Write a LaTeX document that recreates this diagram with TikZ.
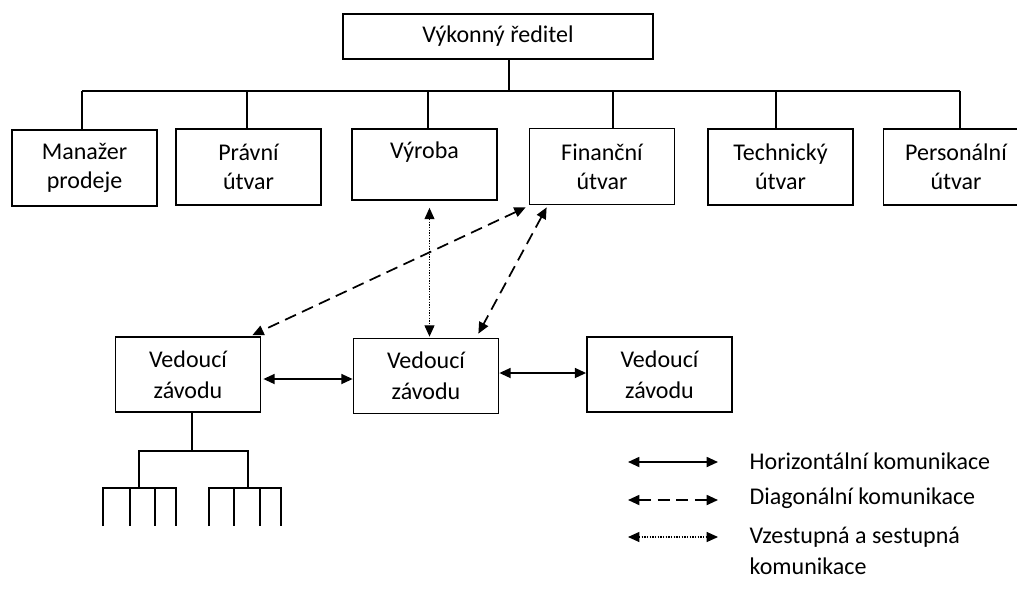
\documentclass[tikz,border=0pt]{standalone}
\usepackage{fontspec}
\setmainfont{Carlito}
\usetikzlibrary{arrows.meta}
\begin{document}
\begin{tikzpicture}[x=0.75pt,y=-0.75pt,
  ln/.style={line width=1.3pt, draw=black},
  txt/.style={font=\fontsize{18}{21.6}\selectfont},
  box/.style={ln, txt, align=center, inner sep=0pt},
  dept/.style={box, minimum width=108.75pt, minimum height=57pt},
  plant/.style={box, font=\fontsize{18}{23}\selectfont, minimum width=108.75pt, minimum height=56.25pt},
  dbl/.style={{Triangle[length=8.5pt,width=7.5pt]}-{Triangle[length=8.5pt,width=7.5pt]}},
  dsh/.style={ln, dbl, dash pattern=on 9pt off 5pt},
  dot/.style={line width=0.8pt, dbl, dash pattern=on 1pt off 1pt},
  leg/.style={txt, anchor=west, align=left}]
\useasboundingbox (0,0) rectangle (1017,590);
\clip (0,0) rectangle (1017,590);
% top
\node[box, minimum width=232.5pt, minimum height=33.75pt] (ceo) at (498,36.5) {Výkonný ředitel};
% departments
\node[dept] (m) at (84.5,168) {Manažer\\prodeje};
\node[dept] (p) at (248.5,167) {Právní\\útvar};
\node[dept, minimum height=53.25pt] (v) at (424.5,164.5) {Výroba\\\mbox{}};
\node[dept] (f) at (602,166.5) {Finanční\\útvar};
\node[dept] (t) at (780.5,167) {Technický\\útvar};
\node[dept] (h) at (956,167) {Personální\\útvar};
% bus
\coordinate (busL) at (82,91);
\coordinate (busR) at (960,91);
\draw[ln] (ceo.south -| 509,0) -- (busL -| 509,0);
\draw[ln] (busL) -- (busR);
\foreach \n/\x in {m/82,p/247,v/428,f/613,t/776,h/960}
  \draw[ln] (busL -| \x,0) -- (\n.north -| \x,0);
% plant managers
\node[plant] (L) at (188,374.5) {Vedoucí\\závodu};
\node[plant] (M) at (426,376) {Vedoucí\\závodu};
\node[plant] (R) at (659.5,374.5) {Vedoucí\\závodu};
% horizontal
\draw[ln, dbl] ([xshift=1.5pt]L.east |- 0,379) -- (M.west |- 0,379);
\draw[ln, dbl] (M.east |- 0,373) -- (R.west |- 0,373);
% diagonal
\draw[dsh] ([shift={(-3,2)}]f.south west) -- ([shift={(-9,-1)}]L.north east);
\draw[dsh] ([shift={(18,2)}]f.south west) -- ([shift={(-21,-4)}]M.north east);
% vertical
\draw[dot] ([shift={(5,7)}]v.south) -- ([shift={(3.5,-1)}]M.north);
% tree under left plant
\draw[ln] (L.south -| 192,0) -- (192,451);
\draw[ln] (139,488) -- (139,451) -- (248,451) -- (248,488);
\draw[ln] (103,526) -- (103,488) -- (176,488) -- (176,526);
\draw[ln] (130,488) -- (130,526);
\draw[ln] (155,488) -- (155,526);
\draw[ln] (209,526) -- (209,488) -- (281,488) -- (281,526);
\draw[ln] (234,488) -- (234,526);
\draw[ln] (260,488) -- (260,526);
% legend
\coordinate (l1a) at (628,462); \coordinate (l1b) at (718,462);
\coordinate (l2a) at (628,500); \coordinate (l2b) at (718,500);
\coordinate (l3a) at (628,537); \coordinate (l3b) at (718,537);
\draw[ln, dbl] (l1a) -- (l1b);
\draw[ln, dbl, dash pattern=on 9pt off 5pt] (l2a) -- (l2b);
\draw[dot] (l3a) -- (l3b);
\node[leg] (t1) at (745,461) {Horizontální komunikace};
\node[leg] (t2) at (745,498) {Diagonální komunikace};
\node[leg, font=\fontsize{18}{23.25}\selectfont] (t3) at (745,550.5) {Vzestupná a sestupná\\komunikace};
\end{tikzpicture}
\end{document}
